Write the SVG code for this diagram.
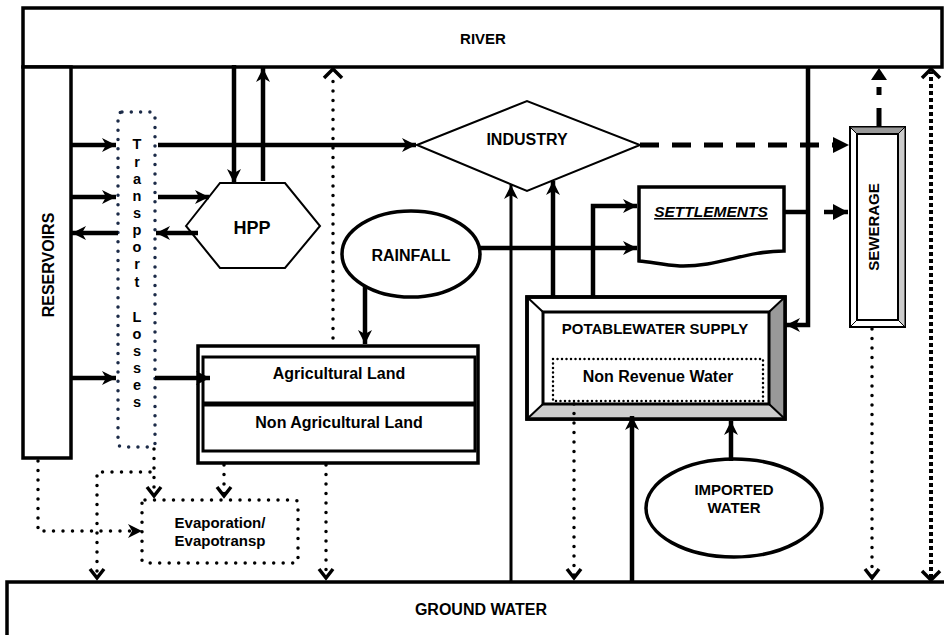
<svg xmlns="http://www.w3.org/2000/svg" width="944" height="635" viewBox="0 0 944 635">
<style>
text{font-family:"Liberation Sans",Arial,sans-serif;font-weight:bold;fill:#000;text-anchor:middle}
.box{fill:#fff;stroke:#000;stroke-width:3.5}
.thin{fill:#fff;stroke:#000;stroke-width:2}
.ln{fill:none;stroke:#000;stroke-width:4.5}
.ln3{fill:none;stroke:#000;stroke-width:3}
.dot{fill:none;stroke:#000;stroke-width:3.5;stroke-linecap:round;stroke-dasharray:0 9.5}
.dash{fill:none;stroke:#000;stroke-width:5;stroke-dasharray:19 13}
.sq{fill:none;stroke:#000;stroke-width:4;stroke-dasharray:4 3}
.f16{font-size:16px}
</style>
<defs>
<marker id="ah" markerUnits="userSpaceOnUse" markerWidth="16" markerHeight="14" refX="14" refY="7" orient="auto"><path d="M0,0 L14,7 L0,14 L4,7 Z" fill="#000"/></marker>
<marker id="tri" markerUnits="userSpaceOnUse" markerWidth="16" markerHeight="16" refX="15" refY="8" orient="auto"><path d="M0,0 L15,8 L0,16 Z" fill="#000"/></marker>
<marker id="ch" markerUnits="userSpaceOnUse" markerWidth="14" markerHeight="18" refX="11" refY="9" orient="auto"><path d="M2,2 L11,9 L2,16" fill="none" stroke="#000" stroke-width="3.5"/></marker>
</defs>

<g id="river"><rect x="23" y="8" width="919" height="59" class="box" stroke-width="4.5"/><text x="483" y="44" font-size="15">RIVER</text></g>
<g id="ground-water"><rect x="7" y="582" width="945" height="70" class="box"/><text x="481" y="615" font-size="16">GROUND  WATER</text></g>
<g id="reservoirs"><rect x="23" y="67" width="48" height="391" class="box"/><text transform="translate(54,265) rotate(-90)" font-size="16">RESERVOIRS</text></g>
<g id="transport-losses"><rect x="118" y="112" width="37" height="335" rx="4" fill="none" stroke="#1c2b48" stroke-width="3.5" stroke-linecap="round" stroke-dasharray="0 9.3"/>
<text font-size="14.5"><tspan x="137" y="149">T</tspan><tspan x="137" y="167">r</tspan><tspan x="137" y="184">a</tspan><tspan x="137" y="201">n</tspan><tspan x="137" y="218">s</tspan><tspan x="137" y="235">p</tspan><tspan x="137" y="252">o</tspan><tspan x="137" y="269">r</tspan><tspan x="137" y="287">t</tspan><tspan x="137" y="322">L</tspan><tspan x="137" y="339">o</tspan><tspan x="137" y="356">s</tspan><tspan x="137" y="373">s</tspan><tspan x="137" y="390">e</tspan><tspan x="137" y="407">s</tspan></text></g>
<g id="hpp"><polygon points="186,226 220,183 285,183 320,226 285,268 220,268" class="thin"/><text x="252" y="234" font-size="18">HPP</text></g>
<g id="industry"><polygon points="417,145 527,101 640,145 527,191" class="thin"/><text x="527" y="145" font-size="16">INDUSTRY</text></g>
<g id="rainfall"><ellipse cx="411" cy="254" rx="69" ry="43" class="box"/><text x="411" y="261" font-size="16">RAINFALL</text></g>
<g id="settlements"><path d="M639,187 H784 V251 C745,251 718,267 680,266 C662,265 652,262 639,261 Z" class="box"/><text x="711" y="217" font-size="15.5" font-style="italic" text-decoration="underline">SETTLEMENTS</text></g>
<g id="sewerage"><rect x="850" y="127" width="55" height="200" class="thin"/><polygon points="850,127 905,127 898,134 857,134" fill="#999" stroke="#000" stroke-width="1"/><polygon points="905,127 905,327 898,320 898,134" fill="#ccc" stroke="#000" stroke-width="1"/><line x1="850" y1="327" x2="857" y2="320" stroke="#000" stroke-width="1"/><rect x="857" y="134" width="41" height="186" fill="none" stroke="#000" stroke-width="2"/><text transform="translate(879,227) rotate(-90)" font-size="15">SEWERAGE</text></g>
<g id="agricultural-land"><rect x="198" y="346" width="280" height="117" class="box"/><rect x="203" y="357" width="272" height="94" fill="none" stroke="#000" stroke-width="3"/><line x1="203" y1="404" x2="475" y2="404" stroke="#000" stroke-width="5"/><text x="339" y="379" class="f16">Agricultural Land</text><text x="339" y="428" class="f16">Non Agricultural Land</text></g>
<g id="evaporation"><rect x="142" y="500" width="156" height="63" rx="3" fill="none" stroke="#000" stroke-width="3.5" stroke-linecap="round" stroke-dasharray="0 9.5"/><text x="220" y="528" font-size="15">Evaporation/</text><text x="220" y="546" font-size="15">Evapotransp</text></g>
<g id="potable-water-supply"><rect x="527" y="297" width="258" height="122" class="box"/><polygon points="785,297 785,419 769,404 769,312" fill="#999"/><polygon points="527,419 785,419 769,404 543,404" fill="#ccc"/><path d="M527,297 L543,312 M785,297 L769,312 M527,419 L543,404 M785,419 L769,404" stroke="#000" stroke-width="2"/><rect x="527" y="297" width="258" height="122" fill="none" stroke="#000" stroke-width="3.5"/><rect x="543" y="312" width="226" height="92" fill="none" stroke="#000" stroke-width="3"/><text x="655" y="334" font-size="15">POTABLEWATER SUPPLY</text>
<g id="non-revenue-water"><rect x="553" y="359" width="210" height="42" fill="none" stroke="#000" stroke-width="2.5" stroke-linecap="round" stroke-dasharray="0 4.5"/><text x="658" y="382" font-size="16">Non Revenue Water</text></g></g>
<g id="imported-water"><ellipse cx="734" cy="508" rx="88" ry="49" class="box" stroke-width="3"/><text x="734" y="495" font-size="15">IMPORTED</text><text x="734" y="513" font-size="15">WATER</text></g>

<g id="connectors">
<path class="ln" d="M71,145 H116" marker-end="url(#ah)"/>
<path class="ln" d="M158,145 H416" marker-end="url(#ah)"/>
<path class="ln" d="M71,197 H116" marker-end="url(#ah)"/>
<path class="ln" d="M158,197 H209" marker-end="url(#ah)"/>
<path class="ln" d="M198,233 H156" marker-end="url(#ah)"/>
<path class="ln" d="M118,233 H72" marker-end="url(#ah)"/>
<path class="ln" d="M71,378 H116" marker-end="url(#ah)"/>
<path class="ln" d="M155,378 H210" marker-end="url(#ah)"/>
<path class="ln" d="M234,65 V183" stroke-width="5" marker-end="url(#ah)"/>
<path class="ln" d="M263,181 V68" marker-end="url(#ah)"/>
<path class="dot" d="M333,338 V72"/>
<path d="M324,78 L333,69 L342,78" fill="none" stroke="#000" stroke-width="3.5"/>
<path class="ln" d="M365,286 V344" marker-end="url(#ah)"/>
<path class="ln" d="M480,248 H637" marker-end="url(#ah)"/>
<path class="ln3" d="M511,582 V185" marker-end="url(#ah)"/>
<path class="ln" d="M553,298 V181" marker-end="url(#ah)"/>
<path class="ln" d="M593,298 V206 H637" marker-end="url(#ah)"/>
<path class="ln" d="M784,212 H808"/>
<path class="ln" d="M808,66 V325 H786" marker-end="url(#ah)"/>
<path class="ln" d="M824,212 H848" marker-end="url(#tri)"/>
<path class="dash" d="M640,145 H834"/>
<path d="M833,137 L849,145 L833,153 Z" fill="#000"/>
<path class="dash" d="M879,127 V87" stroke-dasharray="19 17"/>
<path d="M871,80 L879,68 L887,80 Z" fill="#000"/>
<path class="sq" d="M931,578 V72"/>
<path d="M922,78 L931,69 L940,78 M922,571 L931,580 L940,571" fill="none" stroke="#000" stroke-width="3.5"/>
<path class="dot" d="M872,329 V578" marker-end="url(#ch)"/>
<path class="dot" d="M574,404 V578" marker-end="url(#ch)"/>
<path class="ln" d="M632,582 V416" marker-end="url(#ah)"/>
<path class="ln" d="M731,461 V421" marker-end="url(#ah)"/>
<path class="dot" d="M38,461 V531 H138"/>
<path d="M128,524 L142,531 L128,538 L132,531 Z" fill="#000"/>
<path class="dot" d="M154,449 V496" marker-end="url(#ch)"/>
<path class="dot" d="M150,472 H97 V578" marker-end="url(#ch)"/>
<path class="dot" d="M224,465 V496" marker-end="url(#ch)"/>
<path class="dot" d="M326,465 V578" marker-end="url(#ch)"/>
</g>
</svg>
